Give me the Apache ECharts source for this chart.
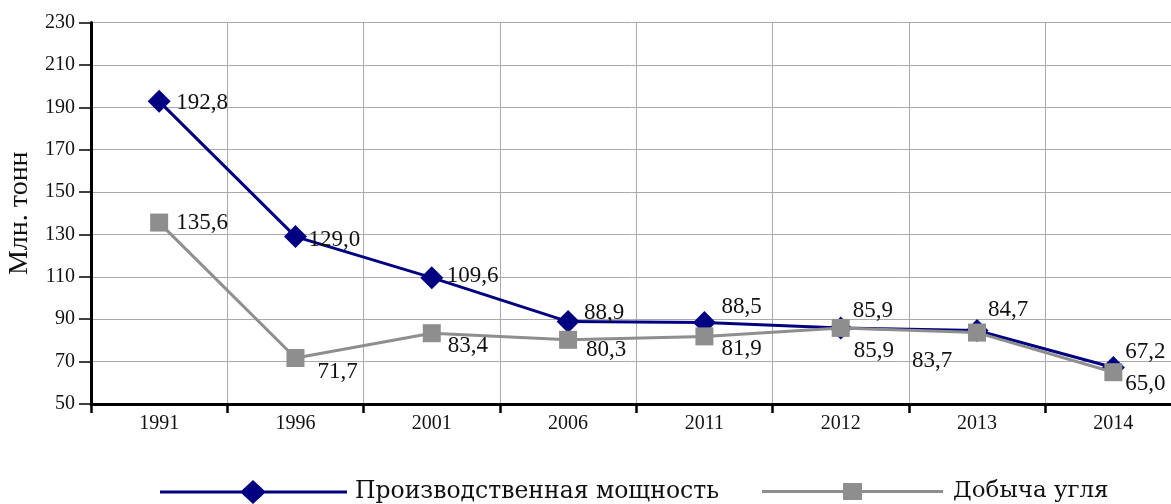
<!DOCTYPE html>
<html><head><meta charset="utf-8">
<script src="https://cdn.jsdelivr.net/npm/echarts@6/dist/echarts.min.js"></script>
<style>html,body{margin:0;padding:0;background:#fff}#c{width:1171px;height:504px}</style>
</head><body><div id="c"></div>
<script>
const categories = ['1991','1996','2001','2006','2011','2012','2013','2014'];
const capacity = [192.8, 129.0, 109.6, 88.9, 88.5, 85.9, 84.7, 67.2];
const production = [135.6, 71.7, 83.4, 80.3, 81.9, 85.9, 83.7, 65.0];
const yTicks = [50, 70, 90, 110, 130, 150, 170, 190, 210, 230];
const seriesNames = ['Производственная мощность', 'Добыча угля'];
const yName = 'Млн. тонн';

const capOffsets = [[17,2],[13,3],[15,-2],[16,-9],[17,-15],[12,-17],[11,-21],[12,-16]];
const prodOffsets = [[17,0],[22,14],[16,13],[18,10],[17,13],[13,23],[-65,28],[12,12]];

const font = '"Liberation Serif", "DejaVu Serif", serif';
const legendFont = '"DejaVu Serif", "Liberation Serif", serif';
const fmt = v => v.toFixed(1).replace('.', ',');

function mk(vals, offs) {
  return vals.map((v, i) => ({ value: v, label: { offset: offs[i] } }));
}

const blue = '#000080';
const gray = '#8e8e8e';
// legend icons: horizontal line with marker in the middle
const iconDiamond = 'path://M0 11.5 L187 11.5 L187 14.5 L0 14.5 Z M93 1 L106 13 L93 25 L80 13 Z';
const iconSquare = 'path://M0 11.5 L181 11.5 L181 14.5 L0 14.5 Z M81 4.5 L100 4.5 L100 21.5 L81 21.5 Z';

const chart = echarts.init(document.getElementById('c'), null, {renderer: 'canvas'});
chart.setOption({
  animation: false,
  grid: { left: 91, top: 22.5, width: 1090.5, height: 381.5, containLabel: false, outerBoundsMode: 'none' },
  xAxis: {
    type: 'category', data: categories, boundaryGap: true,
    axisLine: { lineStyle: { color: '#000', width: 3 } },
    axisTick: { show: true, length: 9, lineStyle: { color: '#000', width: 2.5 } },
    axisLabel: { color: '#111', fontFamily: font, fontSize: 20, margin: 10 },
    splitLine: { show: true, lineStyle: { color: '#aaaaaa', width: 1 } }
  },
  yAxis: {
    type: 'value', min: yTicks[0], max: yTicks[yTicks.length-1], interval: 20,
    name: yName, nameLocation: 'middle', nameGap: 49, nameRotate: 90,
    nameTextStyle: { color: '#111', fontFamily: font, fontSize: 28 },
    axisLine: { show: true, lineStyle: { color: '#000', width: 3 } },
    axisTick: { show: true, length: 12, lineStyle: { color: '#000', width: 1.5 } },
    axisLabel: { color: '#111', fontFamily: font, fontSize: 20, margin: 16 },
    splitLine: { show: true, lineStyle: { color: '#aaaaaa', width: 1 } }
  },
  legend: [
    {
      top: 480, left: 160, padding: 0, itemWidth: 187, itemHeight: 26, icon: iconDiamond,
      itemStyle: { color: blue },
      textStyle: { color: '#111', fontFamily: legendFont, fontSize: 23.5, padding: [0,0,0,3] },
      data: [seriesNames[0]]
    },
    {
      top: 480, left: 762, padding: 0, itemWidth: 181, itemHeight: 26, icon: iconSquare,
      itemStyle: { color: gray },
      textStyle: { color: '#111', fontFamily: legendFont, fontSize: 23, padding: [0,0,0,5] },
      data: [seriesNames[1]]
    }
  ],
  series: [
    {
      name: seriesNames[1], type: 'line', data: mk(production, prodOffsets),
      symbol: 'rect', symbolSize: 18,
      itemStyle: { color: gray },
      lineStyle: { color: gray, width: 3 },
      label: { show: true, position: 'inside', align: 'left', verticalAlign: 'middle',
        color: '#111', fontFamily: font, fontSize: 23,
        formatter: p => fmt(p.value) },
      z: 2
    },
    {
      name: seriesNames[0], type: 'line', data: mk(capacity, capOffsets),
      symbol: 'diamond', symbolSize: 23,
      itemStyle: { color: blue },
      lineStyle: { color: blue, width: 3 },
      label: { show: true, position: 'inside', align: 'left', verticalAlign: 'middle',
        color: '#111', fontFamily: font, fontSize: 23,
        formatter: p => fmt(p.value) },
      z: 1
    }
  ]
});
</script></body></html>
